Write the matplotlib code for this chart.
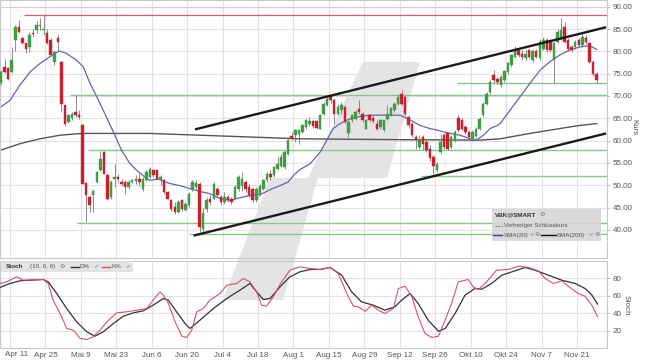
import numpy as np
import pandas as pd
import matplotlib
matplotlib.use('Agg')
import matplotlib.pyplot as plt
from matplotlib.patches import Polygon, Rectangle
from matplotlib.lines import Line2D

plt.rcParams['font.family'] = ['Liberation Sans', 'DejaVu Sans']

# ---------------- data ----------------
dates = pd.bdate_range('2022-04-07', '2022-11-29')

opens = [72.8, 76.5, 76.2, 75.4, 82.5, 85.5, 82.9, 81.8, 81.0, 84.2, 84.8, 85.6, 84.7, 84.0, 82.5, 77.6, 82.9, 77.6, 67.9, 64.2, 65.0, 66.4, 65.8, 63.4, 50.5, 47.3, 47.7, 50.7, 53.3,
         57.4, 52.2, 47.3, 51.5, 51.9, 50.7, 50.7, 49.6, 50.7, 50.9, 51.3, 49.2, 51.1, 51.9, 53.3, 53.3, 51.1, 51.1, 48.5, 46.6, 45.1, 44.0, 46.7, 44.5, 45.5, 49.2, 49.6, 50.3, 40.2,
         44.7, 47.0, 47.0, 49.2, 47.3, 46.2, 47.3, 47.0, 47.0, 49.2, 49.9, 50.7, 49.6, 49.2, 46.6, 47.7, 49.2, 51.1, 52.6, 52.2, 53.7, 54.4, 54.1, 57.1, 61.1, 61.3, 61.5, 62.0,
         63.0, 63.7, 64.4, 64.4, 62.7, 66.0, 67.9, 69.9, 69.0, 66.0, 66.8, 67.5, 61.6, 64.5, 64.9, 67.1, 66.0, 62.7, 65.7, 65.1, 63.8, 63.0, 62.3, 64.9, 65.7, 66.8, 68.3,
         70.5, 69.8, 65.3, 63.8, 60.8, 58.6, 60.8, 59.7, 58.2, 56.3, 53.3, 57.4, 61.2, 61.6, 58.6, 60.1,
         65.0, 64.6, 63.0, 61.9, 60.4, 61.1, 62.7, 65.7, 68.3, 70.9, 74.7, 73.9, 72.4, 73.5, 75.4, 76.9, 78.8, 80.4, 79.5, 78.4,
         80.3, 78.0, 80.0, 78.4, 80.6, 82.5, 82.2, 78.0, 82.2, 82.9, 85.5, 82.5, 81.0, 81.0, 82.5, 81.4, 82.9, 81.8, 77.7, 75.0]
highs = [75.8, 78.2, 76.5, 81.0, 85.9, 87.0, 83.3, 81.9, 84.4, 84.9, 86.9, 87.4, 88.1, 84.9, 82.9, 80.3, 83.6, 77.8, 68.0, 66.0, 66.4, 70.2, 66.8, 63.8, 50.7, 47.7, 49.2, 53.2, 57.7,
         57.7, 52.6, 51.1, 54.8, 52.6, 51.5, 51.1, 51.1, 51.5, 52.2, 52.7, 51.8, 53.3, 54.1, 53.5, 53.7, 52.2, 51.5, 48.8, 47.0, 46.2, 46.6, 47.0, 46.2, 48.5, 51.1, 51.1, 50.7, 45.0,
         47.3, 47.7, 50.7, 49.6, 47.7, 48.5, 47.9, 47.3, 50.0, 52.2, 52.9, 51.1, 50.3, 49.6, 49.6, 50.3, 51.5, 53.0, 53.3, 54.4, 56.3, 56.9, 57.8, 60.4, 62.0, 62.7, 62.7, 63.8,
         64.9, 65.3, 64.6, 64.7, 66.0, 68.7, 69.8, 70.3, 69.4, 68.3, 68.7, 67.9, 64.5, 66.0, 66.8, 69.0, 66.4, 64.9, 66.0, 65.7, 64.5, 64.9, 64.7, 67.9, 67.5, 68.7, 70.2,
         71.4, 70.2, 65.7, 64.2, 61.2, 61.2, 61.2, 60.4, 59.0, 56.7, 55.3, 61.5, 61.8, 62.0, 61.2, 62.3,
         65.8, 65.0, 63.4, 62.3, 62.3, 63.0, 65.3, 68.7, 70.9, 73.5, 75.8, 74.3, 74.7, 75.8, 77.7, 79.5, 81.1, 80.8, 80.3, 80.6,
         80.6, 80.6, 80.6, 82.7, 83.3, 83.0, 82.7, 82.2, 85.0, 87.4, 86.5, 83.0, 81.5, 82.5, 83.0, 84.0, 83.7, 82.2, 78.0, 75.4]
lows = [72.4, 75.2, 73.5, 75.2, 80.0, 84.0, 81.6, 79.7, 79.9, 83.3, 84.0, 84.8, 83.6, 81.6, 78.9, 76.9, 80.3, 66.5, 63.2, 63.9, 64.7, 65.3, 64.9, 50.2, 41.7, 44.0, 44.0, 50.5, 53.2,
        52.4, 46.6, 46.9, 49.6, 50.7, 49.9, 48.1, 49.2, 50.4, 50.3, 49.9, 48.8, 50.9, 51.7, 51.9, 51.1, 50.0, 48.1, 46.8, 44.3, 43.6, 43.8, 44.3, 44.2, 45.1, 48.8, 49.2, 39.6, 39.1,
        44.0, 45.8, 46.8, 47.3, 45.5, 45.8, 46.2, 45.8, 46.8, 48.8, 48.8, 48.5, 47.3, 46.2, 46.2, 47.5, 49.0, 50.7, 51.1, 51.8, 53.3, 54.1, 53.7, 56.7, 60.1, 59.7, 59.3, 61.6,
        62.7, 63.2, 62.9, 62.5, 62.5, 65.7, 67.7, 68.5, 63.8, 65.7, 66.0, 63.9, 60.7, 64.2, 64.5, 66.0, 64.2, 62.5, 64.2, 64.0, 62.3, 62.7, 62.1, 64.7, 65.4, 66.5, 68.0,
        68.0, 65.5, 62.9, 60.8, 58.2, 58.2, 57.8, 57.4, 55.5, 52.6, 53.0, 57.0, 58.2, 57.8, 58.2, 59.7,
        62.0, 62.3, 61.5, 60.4, 60.0, 60.8, 62.3, 65.3, 67.9, 70.5, 73.0, 72.6, 72.0, 73.2, 75.0, 76.5, 78.4, 78.8, 78.0, 78.0,
        78.4, 77.7, 78.4, 78.0, 80.3, 79.9, 79.9, 72.9, 81.8, 82.5, 81.8, 80.0, 79.9, 80.6, 81.0, 81.0, 81.6, 77.3, 74.5, 73.0]
closes = [75.4, 75.4, 73.9, 78.0, 85.5, 84.4, 81.8, 80.6, 83.6, 83.8, 85.9, 85.8, 85.1, 81.8, 79.2, 79.9, 82.1, 68.3, 63.8, 65.7, 66.0, 65.7, 65.3, 50.3, 47.7, 45.5, 48.8, 52.9, 55.9,
          52.6, 46.9, 50.7, 51.9, 51.3, 50.3, 49.6, 50.7, 51.1, 51.5, 50.7, 51.5, 53.0, 53.7, 52.2, 51.5, 51.9, 48.5, 47.0, 44.7, 44.0, 46.2, 44.7, 45.8, 48.1, 50.7, 50.5, 40.6, 43.8,
          46.6, 46.3, 50.3, 47.7, 46.2, 47.3, 46.6, 46.2, 49.6, 51.8, 51.5, 49.2, 47.7, 46.7, 49.2, 49.9, 51.1, 52.6, 51.9, 54.1, 54.8, 56.3, 57.4, 60.1, 60.4, 62.4, 62.3, 63.4,
          64.5, 64.4, 63.2, 62.9, 65.7, 68.3, 69.4, 69.0, 66.0, 67.5, 67.9, 64.2, 64.2, 65.7, 66.4, 66.4, 64.5, 64.5, 64.5, 64.4, 62.7, 64.5, 64.5, 66.0, 67.2, 68.3, 69.8,
          68.3, 66.0, 63.4, 61.2, 60.1, 60.4, 59.3, 57.8, 56.0, 54.4, 54.8, 59.7, 58.6, 58.2, 60.8, 61.9,
          62.3, 62.6, 61.9, 60.8, 61.9, 62.7, 64.9, 68.3, 70.5, 73.2, 73.5, 73.2, 74.3, 75.6, 77.4, 79.2, 80.6, 79.2, 78.8, 79.5,
          78.8, 80.0, 78.8, 82.2, 82.5, 80.3, 80.3, 81.8, 84.4, 84.8, 82.2, 80.6, 80.3, 82.0, 81.4, 83.3, 82.0, 77.7, 74.9, 73.5]

# moving averages (position in trading days, value)
sma20_x = [-0.3, 2.5, 5.3, 8.2, 11.0, 13.8, 15.2, 16.4, 18.5, 21.3, 23.2, 25.1, 27.0, 27.9, 29.3, 32.1, 34.0, 36.4,
           38.3, 40.6, 42.0, 44.4, 46.3, 48.1, 50.5, 53.3, 56.1, 58.9, 61.8, 64.6, 67.4, 70.2, 73.1, 76.4, 78.7, 81.0,
           82.5, 84.3, 87.2, 90.0, 91.9, 93.7, 95.6, 98.5, 101.3, 104.1, 106.9, 109.7, 112.6, 115.4, 118.2, 121.0,
           123.8, 126.7, 129.5, 131.4, 133.2, 134.7, 136.1, 138.0, 139.8, 140.8, 143.6, 146.4, 149.2, 152.1, 154.9,
           157.7, 160.5, 163.4, 165.2, 166.7, 168.1]
sma20_v = [67.4, 69.0, 72.4, 75.4, 77.3, 78.8, 79.5, 80.1, 79.5, 78.0, 76.5, 72.8, 69.8, 68.3, 66.0, 61.2, 57.8, 54.8,
           53.3, 51.8, 51.1, 51.4, 50.7, 50.3, 49.9, 49.2, 48.6, 48.1, 47.0, 46.6, 47.2, 47.7, 47.9, 49.2, 49.9, 50.7,
           52.2, 53.5, 54.8, 57.4, 60.1, 62.7, 63.8, 64.9, 65.4, 65.7, 65.7, 65.7, 65.7, 64.6, 63.4, 62.7,
           62.2, 61.6, 61.2, 60.7, 60.1, 60.4, 61.2, 62.7, 63.3, 63.8, 66.8, 69.8, 72.8, 75.8, 77.7,
           79.2, 80.3, 81.0, 81.2, 81.0, 80.4]
sma200_x = [-0.3, 5.3, 11.0, 16.6, 22.7, 42.0, 56.1, 70.2, 84.3, 112.6, 135.1, 140.8, 149.2, 157.7, 163.3, 168.1]
sma200_v = [57.8, 59.3, 60.4, 61.2, 61.6, 61.6, 61.2, 60.8, 60.4, 60.2, 60.1, 60.4, 61.6, 62.7, 63.4, 63.8]

# stochastic (10,6,6)
stoch_d_x = [-0.3, 2.5, 5.3, 8.2, 11.9, 13.3, 15.7, 18.5, 21.3, 24.2, 26.5, 28.8, 31.7, 34.5, 37.3, 40.1, 42.9, 45.8,
             47.2, 49.5, 51.9, 53.3, 56.1, 59.9, 63.7, 67.4, 70.2, 72.1, 74.0, 75.9, 78.7, 81.5, 84.3, 87.2, 90.0,
             92.8, 96.1, 98.9, 101.7, 105.0, 108.3, 111.1, 113.0, 115.4, 117.7, 120.5, 123.4, 125.3, 128.1, 130.9,
             133.7, 135.6, 138.4, 141.3, 145.0, 147.8, 150.6, 154.4, 158.2, 162.0, 164.8, 166.7, 168.3]
stoch_d_v = [69.7, 74.2, 77.3, 78.0, 78.8, 76.1, 62.8, 45.6, 30.3, 18.9, 13.9, 18.9, 28.4, 36.8, 40.6, 42.9, 49.4, 57.1,
             55.1, 41.8, 28.4, 22.7, 32.2, 45.6, 57.1, 66.6, 74.2, 64.7, 55.9, 57.1, 70.4, 81.9, 87.6, 90.3, 90.3,
             92.6, 83.8, 64.7, 53.2, 49.4, 43.7, 47.5, 55.1, 62.8, 51.3, 32.2, 19.6, 22.7, 39.9, 60.9,
             68.5, 67.7, 74.2, 83.8, 88.7, 92.6, 89.5, 83.8, 78.0, 74.2, 68.5, 60.9, 50.6]
stoch_k_x = [-0.3, 1.6, 4.4, 6.3, 9.1, 11.9, 13.3, 14.7, 17.1, 18.5, 20.4, 22.3, 24.2, 26.0, 27.9, 29.8, 32.6, 35.4,
             38.3, 41.1, 42.9, 44.8, 45.8, 47.2, 49.1, 51.0, 52.4, 53.8, 55.2, 57.1, 58.9, 61.8, 63.7, 66.5, 68.3,
             70.2, 72.1, 73.5, 74.9, 76.8, 78.7, 81.5, 84.3, 87.2, 90.0, 92.8, 95.1, 98.0, 99.4, 100.8, 102.7, 104.6,
             106.4, 108.3, 110.7, 112.1, 114.0, 115.9, 117.7, 119.6, 121.5, 123.4, 125.3, 127.1, 129.0, 131.8, 133.2,
             134.7, 137.0, 139.8, 143.1, 146.0, 148.8, 151.6, 153.5, 155.8, 158.2, 160.0, 162.8, 164.7, 166.7, 168.3]
stoch_k_v = [74.2, 76.1, 81.9, 78.0, 78.8, 78.8, 74.2, 55.1, 36.1, 22.7, 20.8, 11.3, 10.1, 13.2, 20.8, 30.3, 40.6, 41.8,
             43.7, 45.6, 55.1, 64.7, 60.9, 51.3, 30.3, 13.9, 12.4, 20.8, 41.8, 45.6, 55.1, 62.8, 72.3, 74.2, 80.0,
             76.1, 64.7, 49.4, 48.3, 59.0, 73.2, 89.5, 93.3, 91.4, 90.3, 92.6, 85.7, 59.0, 48.3, 47.5, 42.5, 49.4,
             43.7, 39.9, 45.6, 68.5, 71.2, 59.0, 36.1, 17.0, 12.4, 13.9, 32.2, 51.3, 76.1, 78.8, 70.4,
             67.3, 76.1, 89.5, 90.3, 94.1, 92.6, 88.7, 80.0, 74.2, 77.3, 71.2, 62.8, 59.7, 49.4, 36.1]

# horizontal support / resistance lines: (level, start position in trading days)
green_levels = [70.3, 57.9, 41.6, 39.1, 52.1, 73.0]
green_starts = [19.4, 24.6, 21.3, 53.0, 118.5, 128.6]
red_level, red_start = 88.2, 6.5

# trend channel (x positions, y values)
upper_channel = ([54.7, 170.7], [62.5, 85.4])
lower_channel = ([54.3, 170.7], [38.7, 61.6])

tick_labels = ['Apr 11', 'Apr 25', 'Mai 9', 'Mai 23', 'Jun 6', 'Jun 20', 'Jul 4', 'Jul 18', 'Aug 1',
               'Aug 15', 'Aug 29', 'Sep 12', 'Sep 26', 'Okt 10', 'Okt 24', 'Nov 7', 'Nov 21']
price_ticks = [40, 45, 50, 55, 60, 65, 70, 75, 80, 85, 90]
stoch_ticks = [20, 40, 60, 80]

# ---------------- figure ----------------
W, H = 645, 363
fig = plt.figure(figsize=(W / 100, H / 100), dpi=100)
fig.patch.set_facecolor('white')


def fx(x):
    return x / W


def fy(y):
    return 1 - y / H


ax = fig.add_axes([0, fy(257.5), 607 / W, 257.5 / H])
ax2 = fig.add_axes([0, fy(348.3), 607 / W, (348.3 - 261) / H], sharex=ax)
for a in (ax, ax2):
    a.set_facecolor('none')
    for s in a.spines.values():
        s.set_color('#c8c8c8')
        s.set_linewidth(0.8)

# watermark (decorative logo)
wm_px = [(363, 62), (420, 62), (387, 178), (318, 178), (283, 300), (223, 300), (270, 178), (308, 178)]
fig.patches.append(Polygon([(fx(x), fy(y)) for x, y in wm_px], closed=True, transform=fig.transFigure,
                           facecolor='#e4e4e4', edgecolor='none', zorder=-1))

GREEN = '#3f9e45'
RED = '#c8202c'
GRID = '#e2e2e2'
n = len(opens)
xi = np.arange(n)
o = np.array(opens); h = np.array(highs); l = np.array(lows); c = np.array(closes)
col = np.where(c >= o, GREEN, RED)

tick_pos = [dates.get_loc(d) + 0.5 for d in pd.date_range('2022-04-11', periods=len(tick_labels), freq='14D')]

# grid
for a in (ax, ax2):
    for t in tick_pos:
        a.axvline(t, color=GRID, lw=0.8, zorder=0)
for v in price_ticks:
    ax.axhline(v, color='#f2c6c6' if v == 90 else GRID, lw=0.8, zorder=0)
for v in stoch_ticks:
    ax2.axhline(v, color=GRID, lw=0.8, zorder=0)

# levels
for lev, st in zip(green_levels, green_starts):
    ax.hlines(lev, st, 171, color='#86c986', lw=1.0, zorder=1)
ax.hlines(red_level, red_start, 171, color='#e55a5a', lw=0.9, zorder=1)

# moving averages
ax.plot(sma200_x, sma200_v, color='#555555', lw=1.0, zorder=2)
ax.plot(sma20_x, sma20_v, color='#6464b4', lw=0.9, zorder=2)

# candles
ax.vlines(xi, l, h, color='#7a7a7a', lw=0.6, zorder=3)
ax.bar(xi, np.maximum(np.abs(c - o), 0.12), bottom=np.minimum(o, c), width=0.7,
       color=col, edgecolor=col, lw=0.3, zorder=4)

# channel
ax.plot(*upper_channel, color='#1a1a1a', lw=1.7, zorder=5, solid_capstyle='butt')
ax.plot(*lower_channel, color='#1a1a1a', lw=1.7, zorder=5, solid_capstyle='butt')

ax.set_xlim(-0.31, 170.96)
ax.set_ylim(33.8, 91.5)
ax.yaxis.tick_right()
ax.set_yticks(price_ticks)
ax.set_yticklabels([f'{v:.2f}' for v in price_ticks])
ax.tick_params(axis='y', labelsize=5.8, colors='#c8c8c8', labelcolor='#555555', length=2, pad=2)
ax.tick_params(axis='x', bottom=False, labelbottom=False)

# stochastic
ax2.plot(stoch_d_x, stoch_d_v, color='#333333', lw=0.9, zorder=3)
ax2.plot(stoch_k_x, stoch_k_v, color='#d2556a', lw=0.8, zorder=3)
ax2.set_ylim(0, 100)
ax2.yaxis.tick_right()
ax2.set_yticks(stoch_ticks)
ax2.tick_params(axis='y', labelsize=5.8, colors='#c8c8c8', labelcolor='#555555', length=2, pad=2)
ax2.set_xticks(tick_pos)
ax2.set_xticklabels([''] + tick_labels[1:])
ax2.tick_params(axis='x', labelsize=5.8, labelcolor='#555555', length=0, pad=2.5)
fig.text(fx(16.7), fy(354.5), tick_labels[0], fontsize=5.8, color='#555555', ha='center', va='center')

# axis titles
fig.text(fx(634), fy(127), 'Kurs', rotation=270, fontsize=5.8, color='#555555', ha='center', va='center')
fig.text(fx(626), fy(305), 'Stoch', rotation=270, fontsize=5.8, color='#555555', ha='center', va='center')

# main legend box
fig.patches.append(Rectangle((fx(492), fy(241)), (601 - 492) / W, (241 - 209) / H, transform=fig.transFigure,
                             facecolor='#d6d6d6', edgecolor='none', alpha=0.9, zorder=6))
fs = 4.5
fig.text(fx(495), fy(215), 'VBK@SMART', fontsize=fs, fontweight='bold', color='#333333', va='center', zorder=7)
fig.text(fx(539), fy(215), '⚙', fontsize=fs, color='#777777', va='center', zorder=7)
fig.lines.append(Line2D([fx(495), fx(502)], [fy(225.5)] * 2, transform=fig.transFigure, color='#777777',
                        lw=0.8, ls=(0, (1.5, 1.2)), zorder=7))
fig.text(fx(504), fy(225.5), 'Vorheriger Schlusskurs', fontsize=fs, color='#555555', va='center', zorder=7)
fig.lines.append(Line2D([fx(493), fx(502)], [fy(235)] * 2, transform=fig.transFigure, color='#3a3aa0',
                        lw=1.0, zorder=7))
fig.text(fx(503.5), fy(235), 'SMA(20)', fontsize=fs, color='#555555', va='center', zorder=7)
fig.text(fx(529.5), fy(235), '✓', fontsize=fs, color='#6a7fb5', va='center', zorder=7)
fig.text(fx(534.5), fy(235), '⚙', fontsize=fs, color='#777777', va='center', zorder=7)
fig.lines.append(Line2D([fx(541), fx(556)], [fy(235)] * 2, transform=fig.transFigure, color='#111111',
                        lw=1.0, zorder=7))
fig.text(fx(557), fy(235), 'SMA(200)', fontsize=fs, color='#555555', va='center', zorder=7)
fig.text(fx(588.5), fy(235), '✓', fontsize=fs, color='#6a7fb5', va='center', zorder=7)
fig.text(fx(594), fy(235), '⚙', fontsize=fs, color='#777777', va='center', zorder=7)

# stoch legend box
fig.patches.append(Rectangle((fx(1), fy(272)), (133 - 1) / W, (272 - 261) / H, transform=fig.transFigure,
                             facecolor='#e0e0e0', edgecolor='none', alpha=0.9, zorder=6))
fig.text(fx(6), fy(266.5), 'Stoch', fontsize=fs, fontweight='bold', color='#333333', va='center', zorder=7)
fig.text(fx(30), fy(266.5), '(10, 6, 6)', fontsize=fs, color='#555555', va='center', zorder=7)
fig.text(fx(59), fy(266.5), '⚙', fontsize=fs, color='#777777', va='center', zorder=7)
fig.lines.append(Line2D([fx(70.5), fx(78.5)], [fy(266.5)] * 2, transform=fig.transFigure, color='#333333',
                        lw=1.0, zorder=7))
fig.text(fx(79.5), fy(266.5), 'D%', fontsize=fs, color='#555555', va='center', zorder=7)
fig.text(fx(93), fy(266.5), '✓', fontsize=fs, color='#6a7fb5', va='center', zorder=7)
fig.lines.append(Line2D([fx(101.5), fx(110)], [fy(266.5)] * 2, transform=fig.transFigure, color='#d2556a',
                        lw=1.0, zorder=7))
fig.text(fx(111.5), fy(266.5), 'K%', fontsize=fs, color='#555555', va='center', zorder=7)
fig.text(fx(125), fy(266.5), '✓', fontsize=fs, color='#6a7fb5', va='center', zorder=7)

fig.savefig('out.png', dpi=100)
